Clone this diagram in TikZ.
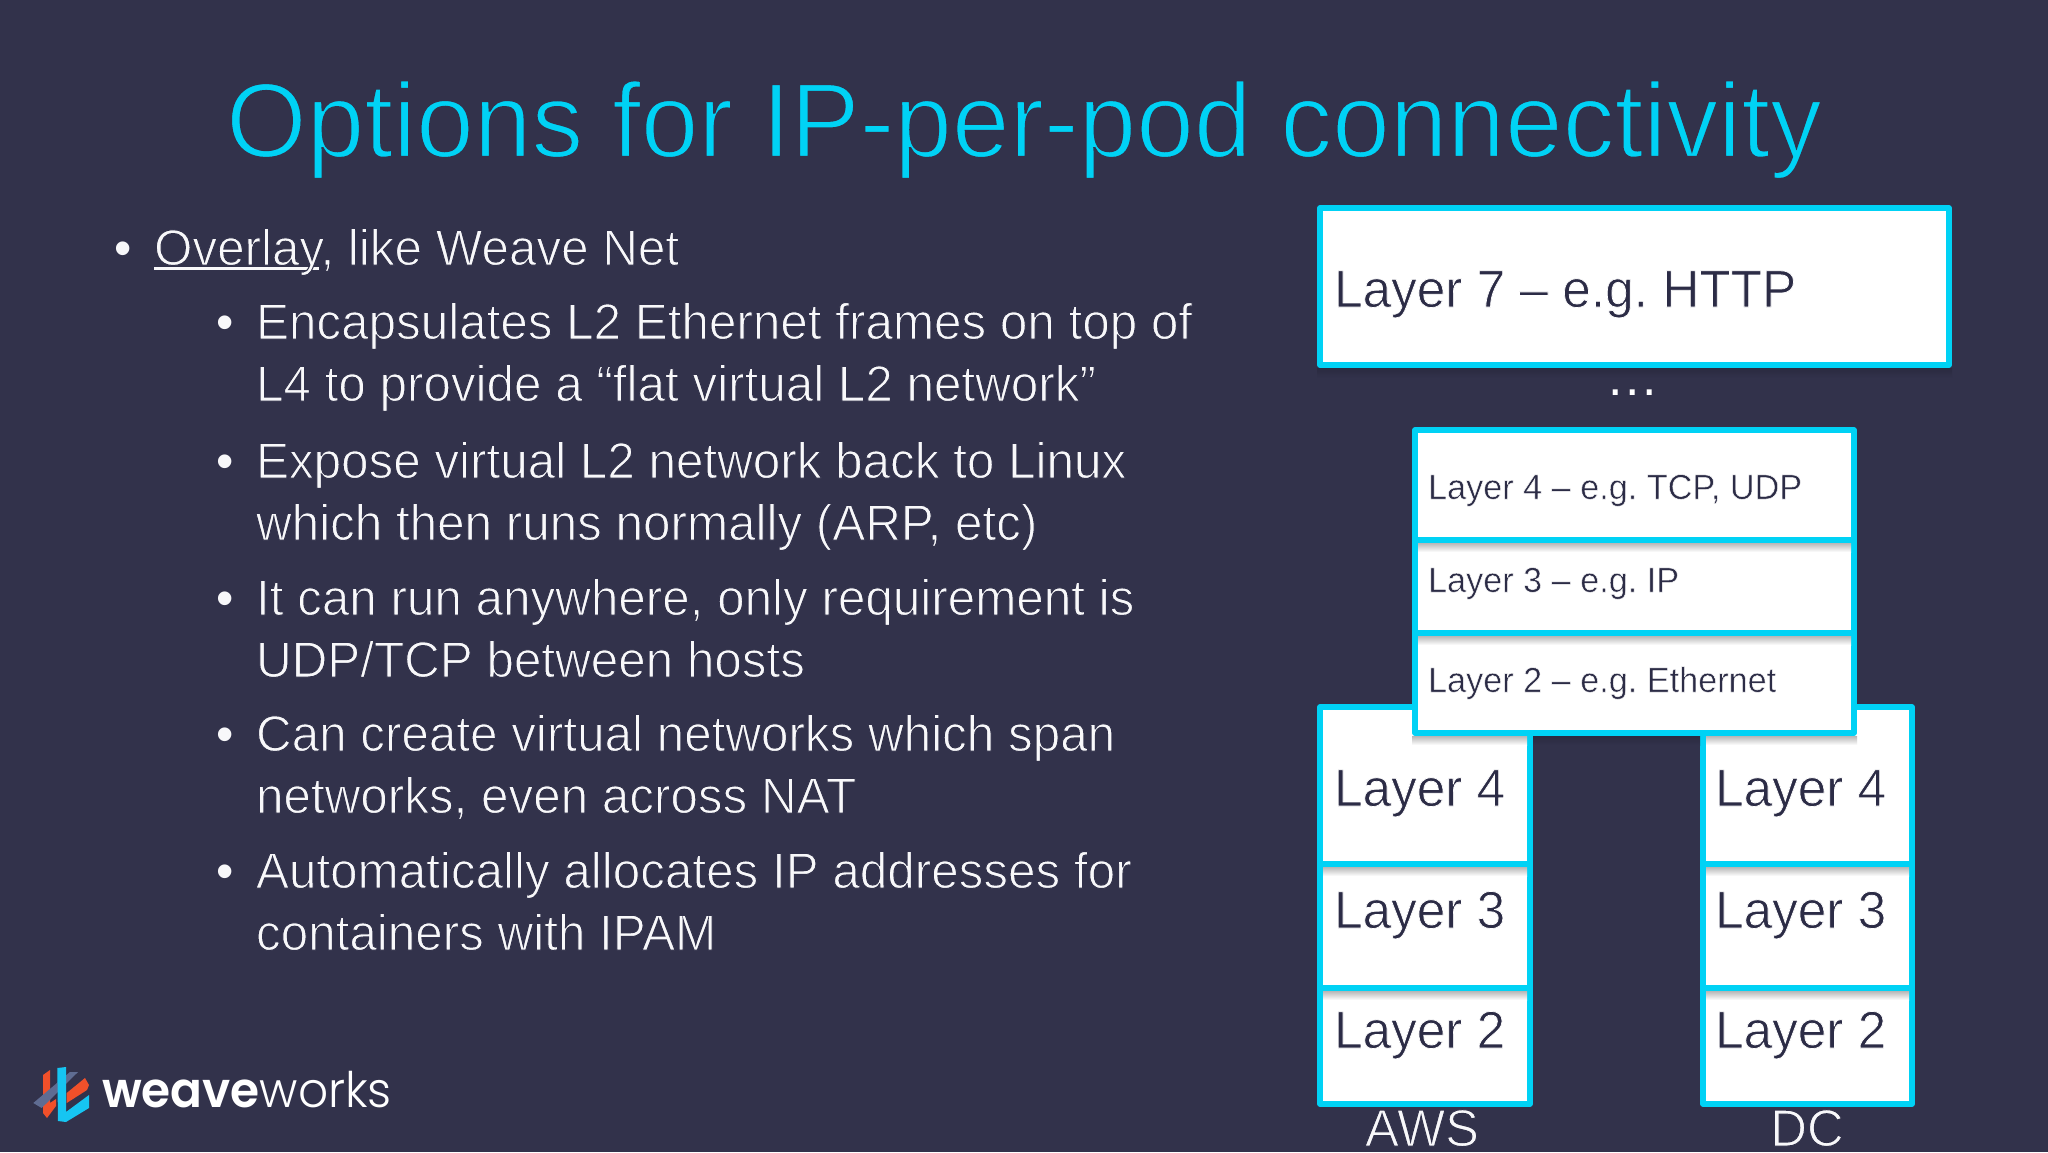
\documentclass[tikz,border=0pt]{standalone}
\usepackage{fontspec}
\setmainfont[FakeStretch=0.978]{Liberation Sans}
\newfontfamily\logofont[FakeStretch=0.96,UprightFont={Poppins Light},BoldFont={Poppins SemiBold}]{Poppins}
\definecolor{slidebg}{HTML}{32324B}
\definecolor{slideshadow}{HTML}{2A2A40}
\definecolor{cyanline}{HTML}{00D2F5}
\definecolor{bodytext}{HTML}{F8F8FA}
\definecolor{darktext}{HTML}{2C2C46}
\definecolor{logoorange}{HTML}{F0502A}
\definecolor{logoblue}{HTML}{16C5F2}
\definecolor{logogray}{HTML}{5F6C92}
\newcommand{\fs}[1]{\fontsize{#1}{#1}\selectfont}
\newcommand{\thinned}[3]{\special{pdf:code 2 Tr #1 w #2 RG}#3\special{pdf:code 0 Tr}}
\newcommand{\dk}[2][1.0]{\thinned{#1}{0.196 0.196 0.294}{#2}}
\newcommand{\wh}[2][0.7]{\thinned{#1}{1 1 1}{#2}}
\tikzset{
  x=1pt,y=-1pt,
  layerbox/.style={draw=cyanline,fill=white,line width=5.5pt,line join=round},
  innershadow/.style={top color=black!28,bottom color=white,draw=none},
  outershadow/.style={top color=slideshadow,bottom color=slidebg,draw=none},
  txt/.style={inner sep=0pt,outer sep=0pt,anchor=base west,text depth=0pt},
  body/.style={txt,text=bodytext,font=\frenchspacing\fs{50.5}},
  blt/.style={txt,text=bodytext,font=\fs{50.5}},
  big/.style={txt,text=darktext,font=\frenchspacing\fs{52.5}},
  small/.style={txt,text=darktext,font=\frenchspacing\fs{35}},
  caption/.style={txt,text=bodytext,font=\fs{52},anchor=base},
}
\begin{document}
\begin{tikzpicture}
\useasboundingbox (0,0) rectangle (2048,1152);
\fill[slidebg] (0,0) rectangle (2048,1152);
\node[txt,text=cyanline,font=\fs{106}] (title) at (226,157) {\dk[2.2]{Options for IP-per-pod connectivity}};
% bullets
\node[blt] (b0) at (114,265) {•};
\node[body] (t0) at (154,265) {\rlap{\rule[-4.5pt]{165pt}{2.2pt}}\dk{Overlay, like Weave Net}};
\node[blt] (b1) at (216,339) {•};
\node[body] (t1) at (256,339) {\dk{Encapsulates L2 Ethernet frames on top of}};
\node[body] (t1b) at (256,401) {\dk{L4 to provide a “flat virtual L2 network”}};
\node[blt] (b2) at (216,478) {•};
\node[body] (t2) at (256,478) {\dk{Expose virtual L2 network back to Linux}};
\node[body] (t2b) at (256,540) {\dk{which then runs normally (ARP, etc)}};
\node[blt] (b3) at (216,615) {•};
\node[body] (t3) at (256,615) {\dk{It can run anywhere, only requirement is}};
\node[body] (t3b) at (256,677) {\dk{UDP/TCP between hosts}};
\node[blt] (b4) at (216,751) {•};
\node[body] (t4) at (256,751) {\dk{Can create virtual networks which span}};
\node[body] (t4b) at (256,813) {\dk{networks, even across NAT}};
\node[blt] (b5) at (216,888) {•};
\node[body] (t5) at (256,888) {\dk{Automatically allocates IP addresses for}};
\node[body] (t5b) at (256,950) {\dk{containers with IPAM}};
% layer 7
\shade[outershadow] (1317,368) rectangle (1952,378);
\draw[layerbox] (1320,208) rectangle (1949,365);
\node[big] (l7) at (1334,307) {\wh{Layer 7 – e.g. HTTP}};
\node[txt,text=white,font=\fs{53}] (dots) at (1608,395) {.\kern2.6pt.\kern2.6pt.};
% AWS stack
\draw[layerbox] (1320,988) rectangle (1530,1104);
\draw[layerbox] (1320,864) rectangle (1530,988);
\draw[layerbox] (1320,707) rectangle (1530,864);
\shade[innershadow] (1323,867) rectangle (1527,876);
\shade[innershadow] (1323,991) rectangle (1527,1000);
\node[big] (a4) at (1334,806) {\wh{Layer 4}};
\node[big] (a3) at (1334,928) {\wh{Layer 3}};
\node[big] (a2) at (1334,1048) {\wh{Layer 2}};
% DC stack
\draw[layerbox] (1703,988) rectangle (1912,1104);
\draw[layerbox] (1703,864) rectangle (1912,988);
\draw[layerbox] (1703,707) rectangle (1912,864);
\shade[innershadow] (1706,867) rectangle (1909,876);
\shade[innershadow] (1706,991) rectangle (1909,1000);
\node[big] (d4) at (1715,806) {\wh{Layer 4}};
\node[big] (d3) at (1715,928) {\wh{Layer 3}};
\node[big] (d2) at (1715,1048) {\wh{Layer 2}};
\node[caption] (aws) at (1422,1146) {\dk{AWS}};
\node[caption] (dc) at (1807,1146) {\dk{DC}};
% middle stack
\shade[innershadow] (1412,736) rectangle (1527,745);
\shade[innershadow] (1706,736) rectangle (1857,745);
\shade[outershadow] (1533,736) rectangle (1700,745);
\draw[layerbox] (1415,633) rectangle (1854,733);
\draw[layerbox] (1415,540) rectangle (1854,633);
\draw[layerbox] (1415,430) rectangle (1854,540);
\shade[innershadow] (1418,543) rectangle (1851,552);
\shade[innershadow] (1418,636) rectangle (1851,645);
\node[small] (m4) at (1428,499) {\wh[0.45]{Layer 4 – e.g. TCP, UDP}};
\node[small] (m3) at (1428,592) {\wh[0.45]{Layer 3 – e.g. IP}};
\node[small] (m2) at (1428,692) {\wh[0.45]{Layer 2 – e.g. Ethernet}};
% logo
\fill[logoorange] (43,1075) -- (50,1070) -- (50,1103) -- (56,1099) -- (56,1106) -- (47,1118) -- (43,1113) -- cycle;
\fill[logogray] (33.3,1103) -- (70,1072) -- (78,1072) -- (41.7,1108) -- cycle;
\fill[logoorange] (66.7,1093) -- (85,1078) -- (89,1085) -- (87,1090) -- (66.7,1103) -- cycle;
\fill[logoblue] (57.3,1068) -- (66,1067) -- (66,1112) -- (89,1095) -- (89,1108) -- (66,1122) -- (58,1121) -- cycle;
\node[txt,text=white,font=\fs{49}\logofont] (logo) at (102,1107) {\textbf{weave}works};
\end{tikzpicture}
\end{document}
